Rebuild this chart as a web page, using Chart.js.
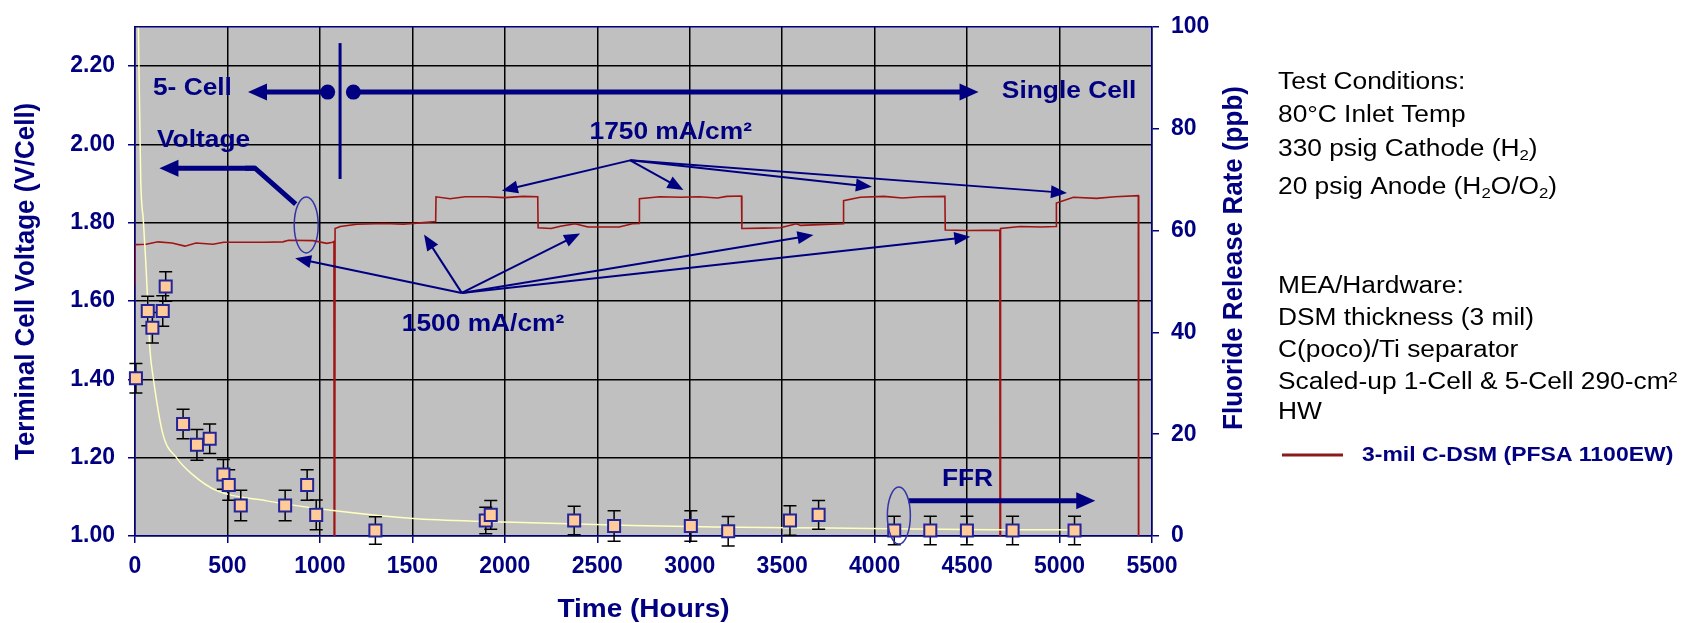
<!DOCTYPE html>
<html lang="en">
<head>
  <meta charset="UTF-8">
  <title>Cell Voltage and Fluoride Release vs Time</title>
  <style>
    body { margin: 0; background: #fff; }
    #wrap { position: relative; width: 1681px; height: 623px; }
  </style>
</head>
<body>
  <div id="wrap"><canvas id="myChart"></canvas></div>

  <script src="https://cdn.jsdelivr.net/npm/chart.js"></script>
  <script>
    // axis ticks
    const hourTicks = [0, 500, 1000, 1500, 2000, 2500, 3000, 3500, 4000, 4500, 5000, 5500];
    const voltTicks = [1.0, 1.2, 1.4, 1.6, 1.8, 2.0, 2.2];
    const ppbTicks = [0, 20, 40, 60, 80, 100];

    // 3-mil C-DSM terminal cell voltage (V/Cell), left axis
    const voltHours = [0, 1, 60, 125, 200, 270, 330, 422, 480, 700, 800, 830, 963, 1037, 1069, 1076, 1078, 1082,
      1110, 1200, 1350, 1450, 1560, 1626, 1628, 1704, 1785, 1900, 2000, 2100, 2178, 2180, 2250, 2300, 2380,
      2450, 2618, 2690, 2726, 2728, 2838, 2950, 3050, 3150, 3200, 3280, 3282, 3400, 3490, 3576, 3600, 3700,
      3830, 3832, 3922, 4050, 4150, 4250, 4380, 4382, 4500, 4677, 4679, 4681, 4788, 4900, 4981, 4983, 5075,
      5200, 5300, 5426, 5428];
    const voltValues = [1.642, 1.744, 1.745, 1.751, 1.748, 1.740, 1.748, 1.745, 1.750, 1.750, 1.751, 1.755, 1.754,
      1.747, 1.750, 1.752, 0, 1.785,
      1.790, 1.796, 1.798, 1.796, 1.800, 1.803, 1.866, 1.861, 1.866, 1.866, 1.864, 1.867, 1.866, 1.787, 1.785,
      1.791, 1.797, 1.789, 1.789, 1.797, 1.798, 1.861, 1.866, 1.865, 1.866, 1.863, 1.867, 1.868, 1.785, 1.786,
      1.787, 1.797, 1.793, 1.795, 1.797, 1.856, 1.865, 1.867, 1.863, 1.866, 1.867, 1.781, 1.780, 1.781, 0,
      1.785, 1.790, 1.789, 1.790, 1.850, 1.865, 1.862, 1.866, 1.869, 0];

    // fluoride release rate measurements (ppb), right axis
    const ffrHours = [5, 69, 94, 150, 166, 260, 335, 404, 478, 507, 572, 812, 931, 980, 1300, 1897, 1924, 2375,
      2591, 3006, 3208, 3542, 3697, 4106, 4301, 4499, 4746, 5081];
    const ffrValues = [31.0, 44.2, 40.9, 44.2, 49.0, 22.0, 17.9, 19.1, 12.1, 10.0, 6.0, 6.0, 10.0, 4.15, 1.1, 3.05,
      4.15, 3.05, 1.95, 1.95, 0.95, 3.05, 4.15, 1.1, 1.1, 1.1, 1.1, 1.1];
    const ffrErrors = [2.9, 2.9, 3.0, 3.0, 2.9, 2.9, 3.0, 2.9, 2.9, 3.0, 3.0, 3.0, 3.0, 2.9, 2.7, 2.6, 2.8, 2.8,
      3.0, 3.0, 2.9, 2.9, 2.8, 2.8, 2.8, 2.8, 2.8, 2.8];

    // fitted FFR trend (ppb), right axis
    const fitHours = [18, 31, 45, 58, 70, 80, 99, 151, 226, 307, 442, 712, 1071, 1524, 2045, 2687, 3138, 3760, 4634, 5100];
    const fitValues = [101, 70, 62, 54, 45, 37, 31, 20, 15.3, 12.2, 8.9, 6.9, 5.0, 3.4, 2.72, 2.08, 1.75, 1.55, 1.24, 1.2];

    const NAVY = '#000080';
    const STRETCH = 1.12;
    const FONT = '"Liberation Sans", Arial, sans-serif';

    // annotations, in hours / volts
    const noteLabels = [
      { text: '5- Cell', t: 97, v: 2.143 },
      { text: 'Voltage', t: 119, v: 2.010 },
      { text: 'Single Cell', t: 4688, v: 2.134 },
      { text: '1750 mA/cm²', t: 2458, v: 2.029 },
      { text: '1500 mA/cm²', t: 1443, v: 1.540 },
      { text: 'FFR', t: 4364, v: 1.145 }
    ];
    const thinArrows = [
      { from: [2678, 1.959], to: [[1984, 1.8815], [2966, 1.8833], [3985, 1.8916], [5040, 1.8757]] },
      { from: [1767, 1.6206], to: [[1563, 1.7696], [2407, 1.7721], [3669, 1.7684], [4517, 1.7638], [866, 1.709]] }
    ];

    const sideNotes = [
      { y: 83, parts: [['Test Conditions:']] },
      { y: 116, parts: [['80°C Inlet Temp']] },
      { y: 150, parts: [['330 psig Cathode (H'], ['2', 'sub'], [')']] },
      { y: 188, parts: [['20 psig Anode (H'], ['2', 'sub'], ['O/O'], ['2', 'sub'], [')']] },
      { y: 287, parts: [['MEA/Hardware:']] },
      { y: 319, parts: [['DSM thickness (3 mil)']] },
      { y: 351, parts: [['C(poco)/Ti separator']] },
      { y: 383, parts: [['Scaled-up 1-Cell & 5-Cell 290-cm²']] },
      { y: 413, parts: [['HW']] }
    ];

    function wideText(ctx, str, x, y, size, weight, color, align) {
      ctx.save();
      ctx.translate(x, y);
      ctx.scale(STRETCH, 1);
      ctx.font = weight + ' ' + size + 'px ' + FONT;
      ctx.fillStyle = color;
      ctx.textAlign = align || 'left';
      ctx.textBaseline = 'middle';
      ctx.fillText(str, 0, 0);
      const w = ctx.measureText(str).width * STRETCH;
      ctx.restore();
      return w;
    }

    function arrow(ctx, x1, y1, x2, y2, lw, headLen, headW) {
      const a = Math.atan2(y2 - y1, x2 - x1);
      const bx = x2 - headLen * Math.cos(a), by = y2 - headLen * Math.sin(a);
      ctx.lineWidth = lw;
      ctx.beginPath();
      ctx.moveTo(x1, y1);
      ctx.lineTo(bx + Math.cos(a), by + Math.sin(a));
      ctx.stroke();
      ctx.beginPath();
      ctx.moveTo(x2, y2);
      ctx.lineTo(bx + headW / 2 * Math.sin(a), by - headW / 2 * Math.cos(a));
      ctx.lineTo(bx - headW / 2 * Math.sin(a), by + headW / 2 * Math.cos(a));
      ctx.closePath();
      ctx.fill();
    }

    const plotDecor = {
      id: 'plotDecor',
      beforeDraw(chart) {
        const { ctx, chartArea: a } = chart;
        ctx.save();
        ctx.fillStyle = '#C0C0C0';
        ctx.fillRect(a.left, a.top, a.right - a.left, a.bottom - a.top);
        ctx.restore();
      },
      beforeDatasetDraw(chart, args) {
        // error bars under the FFR squares
        if (args.index !== 2) return;
        const { ctx } = chart;
        const xs = chart.scales.x, ys = chart.scales.y2;
        ctx.save();
        ctx.strokeStyle = '#000';
        ctx.lineWidth = 1.5;
        ffrHours.forEach((h, i) => {
          const x = xs.getPixelForValue(h);
          const y1 = ys.getPixelForValue(ffrValues[i] + ffrErrors[i]);
          const y2 = ys.getPixelForValue(ffrValues[i] - ffrErrors[i]);
          ctx.beginPath();
          ctx.moveTo(x, y1); ctx.lineTo(x, y2);
          ctx.moveTo(x - 6.5, y1); ctx.lineTo(x + 6.5, y1);
          ctx.moveTo(x - 6.5, y2); ctx.lineTo(x + 6.5, y2);
          ctx.stroke();
        });
        ctx.restore();
      },
      afterDraw(chart) {
        const { ctx, chartArea: a } = chart;
        const xs = chart.scales.x, ys = chart.scales.y;
        const P = (t, v) => [xs.getPixelForValue(t), ys.getPixelForValue(v)];

        ctx.save();
        // top border
        ctx.strokeStyle = NAVY;
        ctx.lineWidth = 1.5;
        ctx.beginPath();
        ctx.moveTo(a.left, a.top); ctx.lineTo(a.right, a.top);
        ctx.stroke();

        ctx.strokeStyle = NAVY;
        ctx.fillStyle = NAVY;
        ctx.lineCap = 'butt';
        ctx.lineJoin = 'miter';

        // 5-cell / single cell arrows with divider
        let p = P(1042, 2.1333), q = P(611, 2.1333);
        arrow(ctx, p[0], p[1], q[0], q[1], 5, 19, 17);
        ctx.beginPath(); ctx.arc(p[0], p[1], 7.5, 0, Math.PI * 2); ctx.fill();
        p = P(1181, 2.1333); q = P(4562, 2.1333);
        arrow(ctx, p[0], p[1], q[0], q[1], 5, 19, 17);
        ctx.beginPath(); ctx.arc(p[0], p[1], 7.5, 0, Math.PI * 2); ctx.fill();
        p = P(1109, 2.2584); q = P(1109, 1.9115);
        ctx.lineWidth = 3;
        ctx.beginPath(); ctx.moveTo(p[0], p[1]); ctx.lineTo(q[0], q[1]); ctx.stroke();

        // voltage arrow (bent)
        p = P(869, 1.8474); q = P(649, 1.939);
        const r = P(132, 1.939);
        ctx.lineWidth = 5;
        ctx.beginPath(); ctx.moveTo(p[0], p[1]); ctx.lineTo(q[0], q[1]); ctx.lineTo(q[0] - 10, q[1]); ctx.stroke();
        arrow(ctx, q[0], q[1], r[0], r[1], 5, 19, 17);

        // FFR arrow
        p = P(4183, 1.0902); q = P(5193, 1.0902);
        arrow(ctx, p[0], p[1], q[0], q[1], 5, 19, 17);

        // current density arrows
        thinArrows.forEach(g => {
          const o = P(g.from[0], g.from[1]);
          g.to.forEach(tp => {
            const e = P(tp[0], tp[1]);
            arrow(ctx, o[0], o[1], e[0], e[1], 2, 16, 13);
          });
        });

        // ellipses
        ctx.strokeStyle = '#3434a8';
        ctx.lineWidth = 1.5;
        [[926, 1.7941, 12, 28], [4131, 1.0523, 11.5, 28.5]].forEach(el => {
          const c = P(el[0], el[1]);
          ctx.beginPath(); ctx.ellipse(c[0], c[1], el[2], el[3], 0, 0, Math.PI * 2); ctx.stroke();
        });

        // annotation text
        noteLabels.forEach(n => {
          const c = P(n.t, n.v);
          wideText(ctx, n.text, c[0], c[1], 23.5, 'bold', NAVY);
        });

        // axis titles
        wideText(ctx, 'Time (Hours)', (a.left + a.right) / 2, 610, 25, 'bold', NAVY, 'center');
        [['Terminal Cell Voltage (V/Cell)', 26, (a.top + a.bottom) / 2], ['Fluoride Release Rate (ppb)', 1234, 258]].forEach(tt => {
          ctx.save();
          ctx.translate(tt[1], tt[2]);
          ctx.rotate(-Math.PI / 2);
          ctx.scale(1, 1.06);
          ctx.font = 'bold 26px ' + FONT;
          ctx.fillStyle = NAVY;
          ctx.textAlign = 'center';
          ctx.textBaseline = 'middle';
          ctx.fillText(tt[0], 0, 0);
          ctx.restore();
        });

        // side notes
        sideNotes.forEach(line => {
          let x = 1278;
          line.parts.forEach(part => {
            if (part[1] === 'sub') {
              x += wideText(ctx, part[0], x, line.y + 6, 15, 'normal', '#000');
            } else {
              x += wideText(ctx, part[0], x, line.y, 23.5, 'normal', '#000');
            }
          });
        });

        // legend
        ctx.strokeStyle = '#8B1A1A';
        ctx.lineWidth = 3;
        ctx.beginPath(); ctx.moveTo(1282, 455); ctx.lineTo(1343, 455); ctx.stroke();
        wideText(ctx, chart.data.datasets[0].label, 1362, 455, 20.5, 'bold', NAVY);
        ctx.restore();
      }
    };

    const tickFont = { family: FONT, size: 23, weight: 'bold' };

    const ctx = document.getElementById('myChart');
    const myChart = new Chart(ctx, {
      type: 'line',
      data: {
        datasets: [
          {
            label: '3-mil C-DSM (PFSA 1100EW)',
            data: voltHours.map((h, i) => ({ x: h, y: voltValues[i] })),
            yAxisID: 'y',
            borderColor: '#A01414',
            borderWidth: 1.6,
            pointRadius: 0,
            tension: 0,
            order: 2
          },
          {
            label: 'FFR fit',
            data: fitHours.map((h, i) => ({ x: h, y: fitValues[i] })),
            yAxisID: 'y2',
            borderColor: '#FFFFC0',
            borderWidth: 1.5,
            pointRadius: 0,
            cubicInterpolationMode: 'monotone',
            order: 1
          },
          {
            label: 'FFR',
            data: ffrHours.map((h, i) => ({ x: h, y: ffrValues[i] })),
            yAxisID: 'y2',
            showLine: false,
            pointStyle: 'rect',
            pointRadius: 8.5,
            pointBackgroundColor: '#FFCC99',
            pointBorderColor: '#23239A',
            pointBorderWidth: 2,
            clip: false,
            order: 0
          }
        ]
      },
      options: {
        responsive: true,
        maintainAspectRatio: false,
        animation: false,
        layout: { padding: { top: 21, left: 0, right: 0, bottom: 0 } },
        plugins: { legend: { display: false }, tooltip: { enabled: false } },
        scales: {
          x: {
            type: 'linear',
            min: 0,
            max: 5500,
            afterBuildTicks: s => { s.ticks = hourTicks.map(v => ({ value: v })); },
            afterFit: s => { s.height = 87; },
            ticks: { font: tickFont, color: NAVY, padding: 10, maxRotation: 0, autoSkip: false, callback: v => String(v) },
            grid: { color: '#000', lineWidth: 1.5, tickColor: NAVY, tickLength: 7 },
            border: { color: NAVY, width: 1.5 }
          },
          y: {
            position: 'left',
            min: 1.0,
            max: 2.3,
            afterBuildTicks: s => { s.ticks = voltTicks.map(v => ({ value: v })); },
            afterFit: s => { s.width = 135; },
            ticks: { font: tickFont, color: NAVY, padding: 13, callback: v => v.toFixed(2) },
            grid: { color: '#000', lineWidth: 1.5, tickColor: NAVY, tickLength: 7 },
            border: { color: NAVY, width: 1.5 }
          },
          y2: {
            position: 'right',
            min: 0,
            max: 100,
            afterBuildTicks: s => { s.ticks = ppbTicks.map(v => ({ value: v })); },
            afterFit: s => { s.width = 529; },
            ticks: { font: tickFont, color: NAVY, padding: 12 },
            grid: { drawOnChartArea: false, tickColor: NAVY, tickLength: 7, lineWidth: 1.5 },
            border: { color: NAVY, width: 1.5 }
          }
        }
      },
      plugins: [plotDecor]
    });
  </script>
</body>
</html>
